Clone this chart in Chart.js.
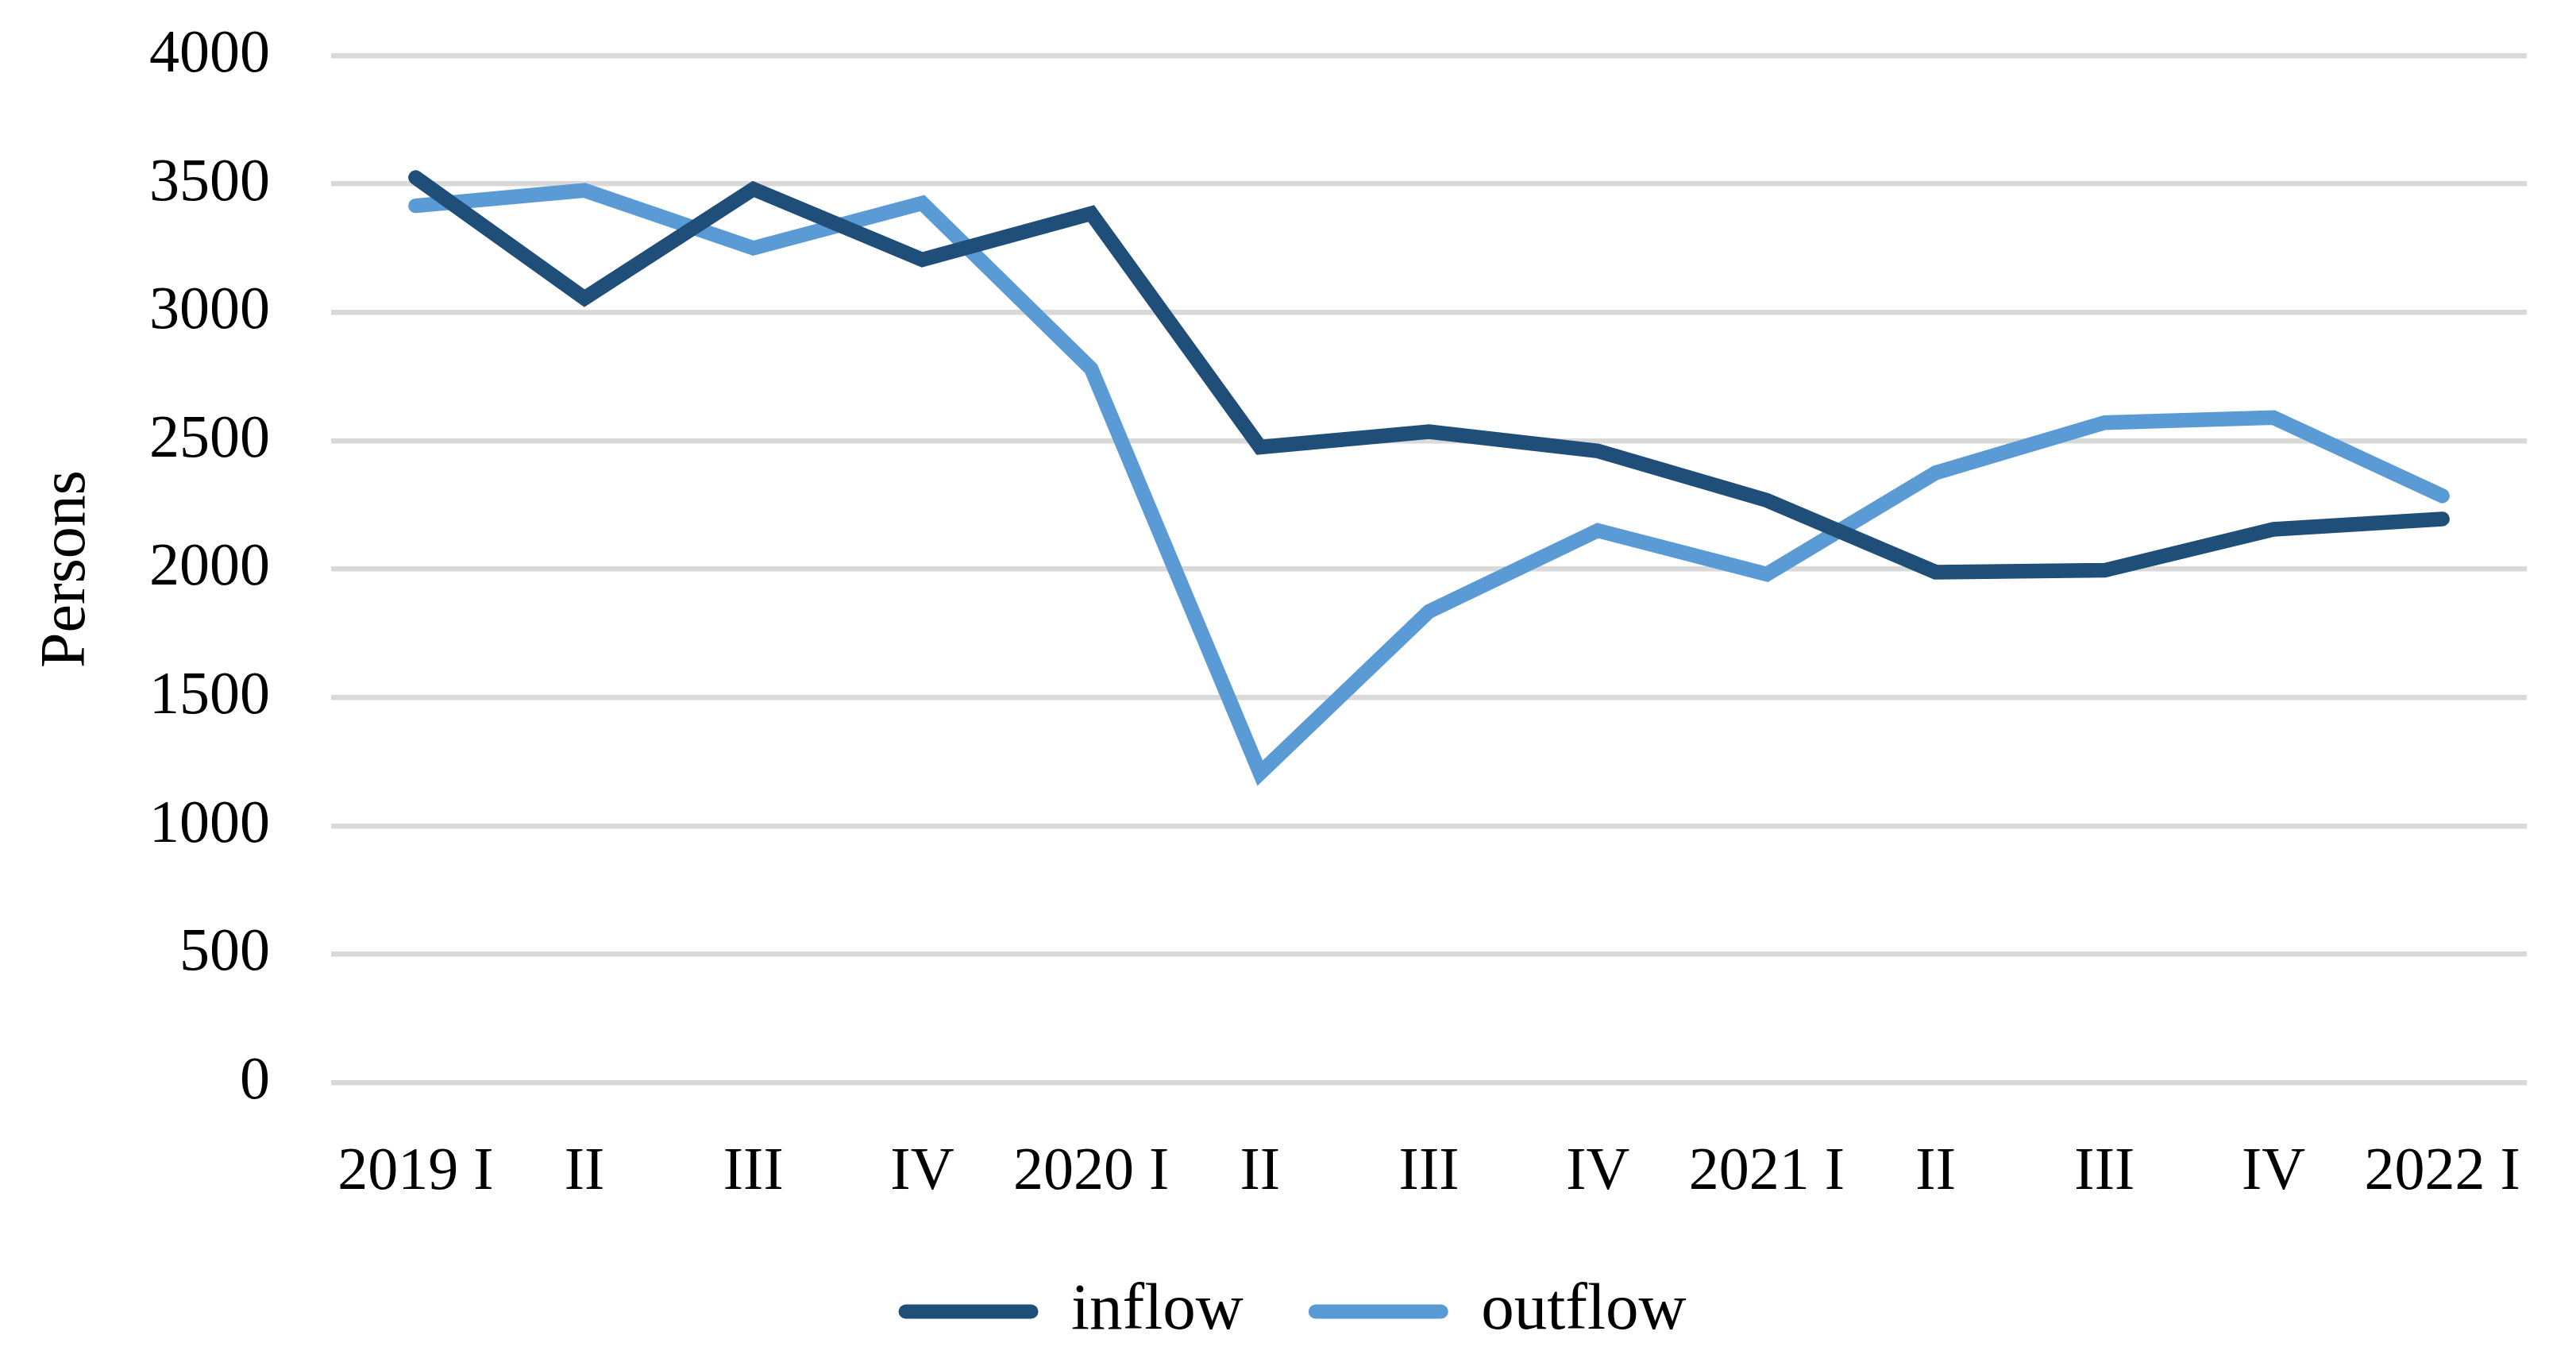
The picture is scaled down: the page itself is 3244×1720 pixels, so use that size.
<!DOCTYPE html>
<html>
<head>
<meta charset="utf-8">
<script src="https://cdn.jsdelivr.net/npm/chart.js@4/dist/chart.umd.min.js"></script>
<style>
html,body{margin:0;padding:0;background:#ffffff;}
#wrap{width:3244px;height:1720px;position:relative;}
canvas{display:block;}
</style>
</head>
<body>
<div id="wrap"><canvas id="c" width="3244" height="1720"></canvas></div>
<script>
const categories = ['2019 I','II','III','IV','2020 I','II','III','IV','2021 I','II','III','IV','2022 I'];
const inflow  = [3525,3055,3480,3205,3385,2475,2535,2460,2268,1988,1995,2155,2195];
const outflow = [3415,3475,3250,3425,2780,1205,1835,2150,1980,2375,2570,2590,2285];
const yTickValues = [0,500,1000,1500,2000,2500,3000,3500,4000];
const seriesNames = ['inflow','outflow'];
const yTitle = 'Persons';

const FONT = "'Liberation Serif', 'Times New Roman', serif";
Chart.defaults.font.family = FONT;
Chart.defaults.color = '#000000';

// nudge the legend block horizontally to sit where the reference has it
const legendShift = {
  id: 'legendShift',
  afterLayout(chart) {
    if (chart.legend) { chart.legend.left += 33; chart.legend.right += 33; }
  }
};

new Chart(document.getElementById('c'), {
  type: 'line',
  data: {
    labels: categories,
    datasets: [
      {label: seriesNames[0], data: inflow, borderColor: '#1F4E79', backgroundColor: '#1F4E79',
       borderWidth: 18.5, borderCapStyle: 'round', borderJoinStyle: 'miter', tension: 0, pointRadius: 0, pointHoverRadius: 0},
      {label: seriesNames[1], data: outflow, borderColor: '#5B9BD5', backgroundColor: '#5B9BD5',
       borderWidth: 18.5, borderCapStyle: 'round', borderJoinStyle: 'miter', tension: 0, pointRadius: 0, pointHoverRadius: 0}
    ]
  },
  plugins: [legendShift],
  options: {
    responsive: false,
    animation: false,
    devicePixelRatio: 1,
    layout: {padding: {top: 70, right: 55, bottom: 17, left: 0}},
    plugins: {
      tooltip: {enabled: false},
      legend: {
        position: 'bottom',
        labels: {
          font: {size: 83, family: FONT},
          color: '#000000',
          boxWidth: 176,
          boxHeight: 18,
          padding: 82,
          useBorderRadius: true,
          borderRadius: 9,
          generateLabels: (chart) => {
            const items = Chart.defaults.plugins.legend.labels.generateLabels(chart);
            items.forEach(it => { it.lineWidth = 0; it.borderRadius = 9; });
            return items;
          }
        }
      }
    },
    scales: {
      x: {
        offset: true,
        grid: {display: false, drawTicks: false},
        border: {display: false},
        ticks: {font: {size: 76, family: FONT}, color: '#000000', padding: 68, maxRotation: 0, autoSkip: false},
        afterFit: (s) => { s.height = 165; }
      },
      y: {
        min: 0, max: 4000,
        afterBuildTicks: (s) => { s.ticks = yTickValues.map(v => ({value: v})); },
        grid: {color: '#D9D9D9', lineWidth: 6.5, drawTicks: true, tickLength: 77, tickColor: 'rgba(0,0,0,0)'},
        border: {display: false},
        ticks: {font: {size: 76, family: FONT}, color: '#000000', padding: 0, callback: (v) => String(v)},
        title: {display: true, text: yTitle, font: {size: 80, family: FONT}, color: '#000000', padding: {top: 37, bottom: 0}},
        afterFit: (s) => { s.width = 417; }
      }
    }
  }
});
</script>
</body>
</html>
